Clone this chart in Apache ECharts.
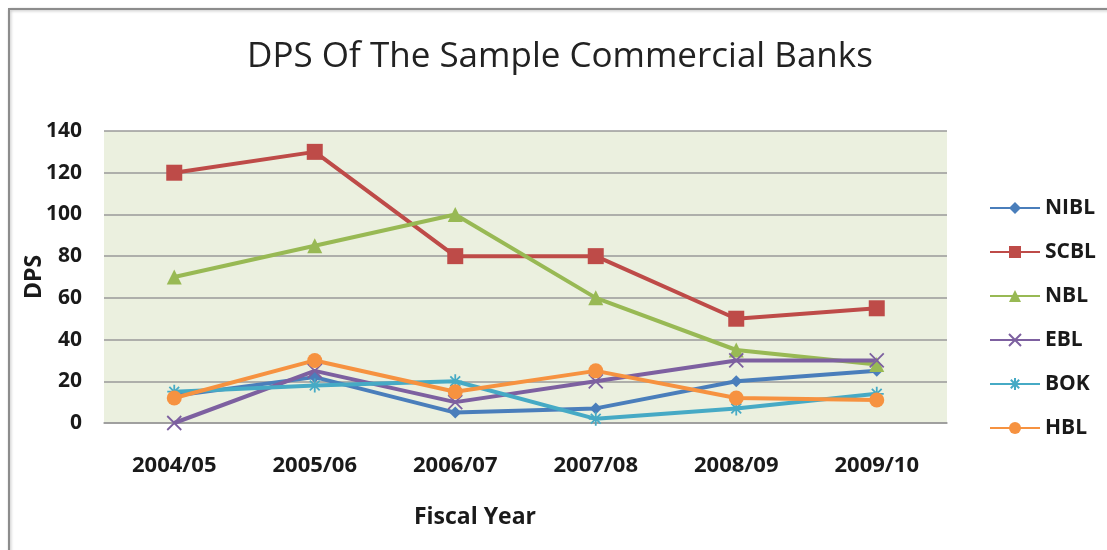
<!DOCTYPE html>
<html>
<head>
<meta charset="utf-8">
<title>DPS Of The Sample Commercial Banks</title>
<script src="https://cdn.jsdelivr.net/npm/echarts@6/dist/echarts.min.js"></script>
<style>
  html, body { margin: 0; padding: 0; background: #ffffff; }
  #chart { width: 1107px; height: 550px; }
</style>
</head>
<body>
<div id="chart"></div>
<script>
// Dividend per share (Rs) by fiscal year
const fiscalYears = ['2004/05', '2005/06', '2006/07', '2007/08', '2008/09', '2009/10'];
const nibl = [13, 22, 5, 7, 20, 25];
const scbl = [120, 130, 80, 80, 50, 55];
const nbl  = [70, 85, 100, 60, 35, 28];
const ebl  = [0, 25, 10, 20, 30, 30];
const bok  = [15, 18, 20, 2, 7, 14];
const hbl  = [12, 30, 15, 25, 12, 11];
const dpsTicks = { min: 0, max: 140, interval: 20 };

const FONT = '"Open Sans", "Noto Sans", sans-serif';
const crossPath = 'path://M0,0L10,10M10,0L0,10';
const starPath = 'path://M5,0L5,10M0,5L10,5M1.5,1.5L8.5,8.5M8.5,1.5L1.5,8.5';

function bankSeries(name, data, color, symbol, size, hollow) {
  return {
    name: name,
    type: 'line',
    data: data,
    symbol: symbol,
    symbolSize: size,
    showSymbol: true,
    lineStyle: { color: color, width: 4 },
    itemStyle: hollow
      ? { color: 'transparent', borderColor: color, borderWidth: 1.8 }
      : { color: color, borderColor: color, borderWidth: 0 },
    emphasis: { disabled: true },
    animation: false
  };
}

const chart = echarts.init(document.getElementById('chart'), null, { renderer: 'canvas' });

chart.setOption({
  backgroundColor: '#ffffff',
  textStyle: { fontFamily: FONT },
  graphic: [
    {
      type: 'rect', z: -10, silent: true,
      shape: { x: 9, y: 9, width: 1200, height: 600 },
      style: { fill: '#ffffff', stroke: '#8c8c8c', lineWidth: 2,
               shadowBlur: 3, shadowColor: 'rgba(0,0,0,0.25)', shadowOffsetX: 1, shadowOffsetY: 1 }
    },
    {
      type: 'text', silent: true,
      x: 560, y: 57,
      style: { text: 'DPS Of The Sample Commercial Banks', font: 'normal 35px ' + FONT,
               fill: '#222222', textAlign: 'center', textVerticalAlign: 'middle' }
    },
    {
      type: 'text', silent: true,
      x: 475, y: 517,
      style: { text: 'Fiscal Year', font: 'bold 23px ' + FONT,
               fill: '#1a1a1a', textAlign: 'center', textVerticalAlign: 'middle' }
    }
  ],
  grid: {
    left: 104, right: 160, top: 131, bottom: 127,
    show: true, backgroundColor: '#ebf0df', borderWidth: 0
  },
  legend: {
    orient: 'vertical',
    left: 984, top: 191,
    itemWidth: 50, itemHeight: 15, itemGap: 20,
    textStyle: { fontFamily: FONT, fontWeight: 'bold', fontSize: 21, color: '#1a1a1a', lineHeight: 24 },
    data: ['NIBL', 'SCBL', 'NBL', 'EBL', 'BOK', 'HBL']
  },
  xAxis: {
    type: 'category',
    data: fiscalYears,
    boundaryGap: true,
    axisLine: { show: true, lineStyle: { color: '#9a9a9a', width: 1.5 } },
    axisTick: { show: false },
    axisLabel: { margin: 32, fontFamily: FONT, fontWeight: 'bold', fontSize: 22, color: '#1a1a1a' },
    splitLine: { show: false }
  },
  yAxis: {
    type: 'value',
    min: dpsTicks.min, max: dpsTicks.max, interval: dpsTicks.interval,
    name: 'DPS',
    nameLocation: 'middle',
    nameGap: 58,
    nameMoveOverlap: false,
    nameRotate: 90,
    nameTextStyle: { fontFamily: FONT, fontWeight: 'bold', fontSize: 23, color: '#1a1a1a' },
    axisLine: { show: false },
    axisTick: { show: false },
    axisLabel: { margin: 22, fontFamily: FONT, fontWeight: 'bold', fontSize: 21, color: '#1a1a1a' },
    splitLine: { show: true, lineStyle: { color: '#9a9a9a', width: 1.5 } }
  },
  series: [
    bankSeries('NIBL', nibl, '#4a7ebb', 'diamond', 12, false),
    bankSeries('SCBL', scbl, '#be4b48', 'rect', 16, false),
    bankSeries('NBL', nbl, '#98b954', 'triangle', 15, false),
    bankSeries('EBL', ebl, '#7d60a0', crossPath, 14, true),
    bankSeries('BOK', bok, '#46aac5', starPath, 14, true),
    bankSeries('HBL', hbl, '#f69240', 'circle', 15, false)
  ]
});
</script>
</body>
</html>
